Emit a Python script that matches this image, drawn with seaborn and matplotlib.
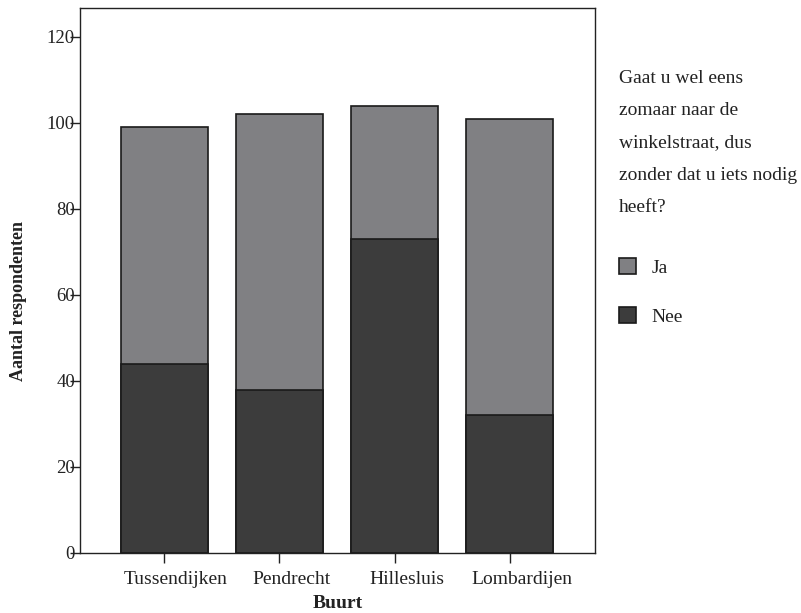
import matplotlib
matplotlib.use('Agg')
import matplotlib.pyplot as plt
import matplotlib.transforms as mtransforms
from matplotlib.patches import Patch
import seaborn as sns
import pandas as pd

buurt = ['Tussendijken', 'Pendrecht', 'Hillesluis', 'Lombardijen']
nee = [44, 38, 73, 32]
ja = [55, 64, 31, 69]
legend_labels = ['Ja', 'Nee']
legend_title = 'Gaat u wel eens\nzomaar naar de\nwinkelstraat, dus\nzonder dat u iets nodig\nheeft?'

ja_color = '#808083'
nee_color = '#3c3c3c'
edge = '#1a1a1a'
ink = '#222222'

sns.set_style('white')
plt.rcParams['font.family'] = ['Liberation Serif', 'DejaVu Serif']

df = pd.DataFrame({'Buurt': buurt, 'Nee': nee, 'Ja': ja})
df['Totaal'] = df['Nee'] + df['Ja']

fig = plt.figure(figsize=(8.01, 6.13), dpi=100)
ax = fig.add_axes([0.0999, 0.0979, 0.6429, 0.8891])

# stacked: totaal (Ja kleur) eerst, dan Nee eroverheen
sns.barplot(data=df, x='Buurt', y='Totaal', color=ja_color, saturation=1,
            width=0.755, edgecolor=edge, linewidth=1.2, ax=ax)
sns.barplot(data=df, x='Buurt', y='Nee', color=nee_color, saturation=1,
            width=0.755, edgecolor=edge, linewidth=1.2, ax=ax)

ax.set_xlim(-0.73, 3.74)
ax.set_ylim(0, 126.7)
ax.set_yticks([0, 20, 40, 60, 80, 100, 120])

for s in ax.spines.values():
    s.set_color(ink)
    s.set_linewidth(1.0)
    s.set_visible(True)

ax.tick_params(axis='y', left=True, direction='out', length=7.2, width=1, color=ink,
               pad=-3.6, labelsize=13.5, labelcolor=ink)
ax.tick_params(axis='x', bottom=True, direction='out', length=7.2, width=1, color=ink,
               pad=6, labelsize=14, labelcolor=ink)

# labels staan in het origineel iets rechts van de tick
shift = mtransforms.ScaledTranslation(0.12, 0, fig.dpi_scale_trans)
for lbl in ax.get_xticklabels():
    lbl.set_transform(lbl.get_transform() + shift)

ax.set_xlabel('Buurt', fontsize=14, fontweight='bold', color=ink)
ax.set_ylabel('Aantal respondenten', fontsize=13, fontweight='bold', color=ink)
ax.xaxis.label.set_verticalalignment('center')
ax.yaxis.label.set_verticalalignment('center')
ax.xaxis.set_label_coords(0.501, -0.093)
ax.yaxis.set_label_coords(-0.119, 0.462)

fig.text(619 / 801, 1 - 70 / 613, legend_title, fontsize=14, va='top', ha='left',
         linespacing=2.17, color=ink)

handles = [Patch(facecolor=ja_color, edgecolor=edge, linewidth=1.2),
           Patch(facecolor=nee_color, edgecolor=edge, linewidth=1.2)]
leg = fig.legend(handles, legend_labels, loc='upper left',
                 bbox_to_anchor=(619 / 801, 1 - 258 / 613), frameon=False,
                 fontsize=14, handlelength=0.875, handleheight=0.875,
                 handletextpad=0.8, labelspacing=1.57,
                 borderpad=0, borderaxespad=0)
for t in leg.get_texts():
    t.set_color(ink)

fig.savefig('out.png', dpi=100)
